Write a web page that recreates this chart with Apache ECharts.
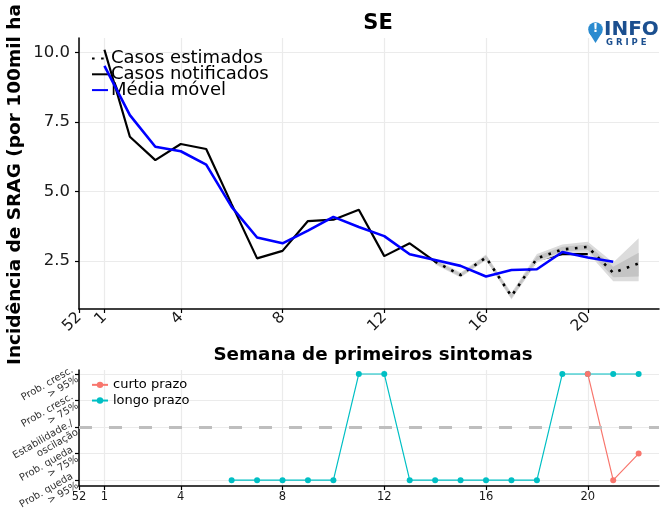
<!DOCTYPE html>
<html>
<head>
<meta charset="utf-8">
<script src="https://cdn.jsdelivr.net/npm/echarts@6/dist/echarts.min.js"></script>
<style>html,body{margin:0;padding:0;background:#fff}#main{width:661px;height:508px}</style>
</head>
<body>
<div id="main"></div>
<script>
// semana 52 do ano anterior fica na posicao 0
var tickSemanas = [0, 1, 4, 8, 12, 16, 20];
var tickRotulos = ['52', '1', '4', '8', '12', '16', '20'];
var yTicks = [2.5, 5, 7.5, 10];

var semanasNotif = [1,2,3,4,5,6,7,8,9,10,11,12,13,14,15,16,17,18,19,20];
var notificados = [10.1, 6.97, 6.13, 6.71, 6.53, 4.55, 2.6, 2.87, 3.94, 3.99, 4.35, 2.68, 3.14, 2.48, 2.0, 2.63, 1.24, 2.54, 2.75, 2.75];

var semanasMedia = [1,2,3,4,5,6,7,8,9,10,11,12,13,14,15,16,17,18,19,20,21];
var mediaMovel = [9.52, 7.75, 6.61, 6.45, 5.97, 4.45, 3.35, 3.14, 3.6, 4.09, 3.73, 3.4, 2.75, 2.54, 2.33, 1.95, 2.18, 2.21, 2.83, 2.63, 2.48];

var semanasEst = [14,15,16,17,18,19,20,21,22];
var estimados = [2.48, 2.0, 2.63, 1.24, 2.6, 2.92, 3.01, 2.08, 2.42];
var ic95Inf = [2.38, 1.91, 2.53, 1.12, 2.45, 2.79, 2.8, 1.78, 1.78];
var ic95Sup = [2.58, 2.09, 2.74, 1.36, 2.76, 3.1, 3.2, 2.45, 3.32];
var ic50Inf = [2.42, 1.95, 2.57, 1.17, 2.52, 2.85, 2.9, 1.92, 1.95];
var ic50Sup = [2.54, 2.05, 2.7, 1.31, 2.68, 3.02, 3.1, 2.3, 2.8];

var niveis = [1, 2, 3, 4, 5];
var nivelRotulos = ['Prob. queda\n> 95%', 'Prob. queda\n> 75%', 'Estabilidade./\noscilação', 'Prob. cresc.\n> 75%', 'Prob. cresc.\n> 95%'];
var semanasLongo = [6,7,8,9,10,11,12,13,14,15,16,17,18,19,20,21,22];
var longoPrazo = [1,1,1,1,1,5,5,1,1,1,1,1,1,5,5,5,5];
var semanasCurto = [20, 21, 22];
var curtoPrazo = [5, 1, 2];

function pares(xs, ys) {
    return xs.map(function (x, i) { return [x, ys[i]]; });
}

// faixa de intervalo (poligono unico calculado pelas coordenadas do eixo)
function faixa(nome, inf, sup, cor, z) {
    return {
        name: nome, type: 'custom', xAxisIndex: 0, yAxisIndex: 0, silent: true, z: z,
        data: semanasEst.map(function (w, i) { return [w, inf[i], sup[i]]; }),
        encode: { x: 0, y: [1, 2] },
        renderItem: function (params, api) {
            if (params.dataIndex !== 0) return;
            var cima = [], baixo = [];
            for (var i = 0; i < semanasEst.length; i++) {
                cima.push(api.coord([semanasEst[i], sup[i]]));
                baixo.unshift(api.coord([semanasEst[i], inf[i]]));
            }
            return { type: 'polygon', shape: { points: cima.concat(baixo) }, style: { fill: cor } };
        }
    };
}

var fonte = 'DejaVu Sans';
var myChart = echarts.init(document.getElementById('main'));

var eixoX = function (grid, rot, size, margin) {
    return {
        type: 'value', gridIndex: grid, min: 0, max: 22.8,
        axisLine: { lineStyle: { color: '#000', width: 1.5 } },
        axisTick: { customValues: tickSemanas, length: 4, lineStyle: { color: '#000', width: 1.2 } },
        axisLabel: {
            customValues: tickSemanas, rotate: rot, margin: margin,
            fontFamily: fonte, fontSize: size, color: '#1a1a1a',
            formatter: function (v) { return tickRotulos[tickSemanas.indexOf(v)]; }
        },
        splitLine: { show: true, lineStyle: { color: '#ebebeb', width: 1.2 } }
    };
};

var option = {
    animation: false,
    textStyle: { fontFamily: fonte },
    title: {
        text: 'SE', left: 373, top: 8, textAlign: 'center',
        textStyle: { fontFamily: fonte, fontSize: 21, fontWeight: 'bold', color: '#000' }
    },
    grid: [
        { left: 79, right: 2, top: 38, height: 271, outerBoundsMode: 'none' },
        { left: 79, right: 2, top: 370, bottom: 22, outerBoundsMode: 'none' }
    ],
    xAxis: [eixoX(0, 45, 15.5, 6), eixoX(1, 0, 11.5, 5)],
    yAxis: [
        {
            type: 'value', gridIndex: 0, min: 0.78, max: 10.52,
            axisLine: { show: true, lineStyle: { color: '#000', width: 1.5 } },
            axisTick: { show: true, customValues: yTicks, length: 4, lineStyle: { color: '#000', width: 1.2 } },
            axisLabel: {
                customValues: yTicks, margin: 9, fontSize: 16.5, color: '#1a1a1a',
                formatter: function (v) { return v.toFixed(1); }
            },
            splitLine: { lineStyle: { color: '#ebebeb', width: 1.2 } }
        },
        {
            type: 'value', gridIndex: 1, min: 0.78, max: 5.15,
            axisLine: { show: true, lineStyle: { color: '#000', width: 1.5 } },
            axisTick: { show: true, customValues: niveis, length: 4, lineStyle: { color: '#000', width: 1.2 } },
            axisLabel: {
                customValues: niveis, rotate: 30, margin: 4, fontSize: 10, color: '#333', lineHeight: 10.5,
                formatter: function (v) { return nivelRotulos[v - 1]; }
            },
            splitLine: { lineStyle: { color: '#ebebeb', width: 1.2 } }
        }
    ],
    legend: [
        {
            data: ['Casos estimados', 'Casos notificados', 'Média móvel'],
            orient: 'vertical', left: 86, top: 44.5, itemGap: -2.2,
            itemWidth: 16, itemHeight: 8,
            itemStyle: { opacity: 0 },
            textStyle: { fontFamily: fonte, fontSize: 18, color: '#000', padding: [0, 0, 0, -2] }
        },
        {
            data: ['curto prazo', 'longo prazo'],
            orient: 'vertical', left: 86, top: 372, itemGap: 0,
            itemWidth: 16, itemHeight: 8,
            textStyle: { fontFamily: fonte, fontSize: 13, color: '#000', lineHeight: 15.7 }
        }
    ],
    graphic: [
        {
            type: 'text', x: 6, y: 365, rotation: Math.PI / 2,
            style: { text: 'Incidência de SRAG (por 100mil ha', font: 'bold 18.5px ' + fonte, fill: '#000', textAlign: 'left', textVerticalAlign: 'top' }
        },
        {
            type: 'text', x: 373, y: 346,
            style: { text: 'Semana de primeiros sintomas', font: 'bold 18.3px ' + fonte, fill: '#000', textAlign: 'center' }
        },
        { type: 'circle', shape: { cx: 595.5, cy: 29.5, r: 7.3 }, style: { fill: '#2a8bd0' } },
        { type: 'polygon', shape: { points: [[588.6, 32], [602.4, 32], [595.5, 43]] }, style: { fill: '#2a8bd0' } },
        { type: 'text', x: 595.5, y: 23, style: { text: '!', font: 'bold 12px ' + fonte, fill: '#fff', align: 'center' } },
        { type: 'text', x: 604, y: 20, style: { text: 'INFO', font: 'bold 20px ' + fonte, fill: '#1b4f8f' } },
        { type: 'text', x: 606, y: 38, style: { text: 'G R I P E', font: 'bold 8.5px ' + fonte, fill: '#1b4f8f' } }
    ],
    series: [
        {
            name: 'Casos notificados', type: 'line', xAxisIndex: 0, yAxisIndex: 0, z: 2,
            data: pares(semanasNotif, notificados), symbol: 'none', color: '#000',
            lineStyle: { color: '#000', width: 2.2 }
        },
        faixa('ic95', ic95Inf, ic95Sup, '#dcdcdc', 3),
        faixa('ic50', ic50Inf, ic50Sup, '#c4c4c4', 4),
        {
            name: 'Casos estimados', type: 'line', xAxisIndex: 0, yAxisIndex: 0, z: 5,
            data: pares(semanasEst, estimados), symbol: 'none', color: '#000',
            lineStyle: { color: '#000', width: 2.6, type: [2.6, 6.5] }
        },
        {
            name: 'Média móvel', type: 'line', xAxisIndex: 0, yAxisIndex: 0, z: 6,
            data: pares(semanasMedia, mediaMovel), symbol: 'none', color: '#0000ff',
            lineStyle: { color: '#0000ff', width: 2.6 }
        },
        {
            name: 'longo prazo', type: 'line', xAxisIndex: 1, yAxisIndex: 1,
            data: pares(semanasLongo, longoPrazo), color: '#00bfc4',
            symbol: 'circle', symbolSize: 6, lineStyle: { width: 1.2 },
            markLine: {
                silent: true, symbol: 'none', label: { show: false },
                lineStyle: { color: '#bebebe', width: 3, type: [13, 17] },
                data: [{ yAxis: 3 }]
            }
        },
        {
            name: 'curto prazo', type: 'line', xAxisIndex: 1, yAxisIndex: 1,
            data: pares(semanasCurto, curtoPrazo), color: '#f8766d',
            symbol: 'circle', symbolSize: 6, lineStyle: { width: 1.2 }
        }
    ]
};

myChart.setOption(option);
</script>
</body>
</html>
